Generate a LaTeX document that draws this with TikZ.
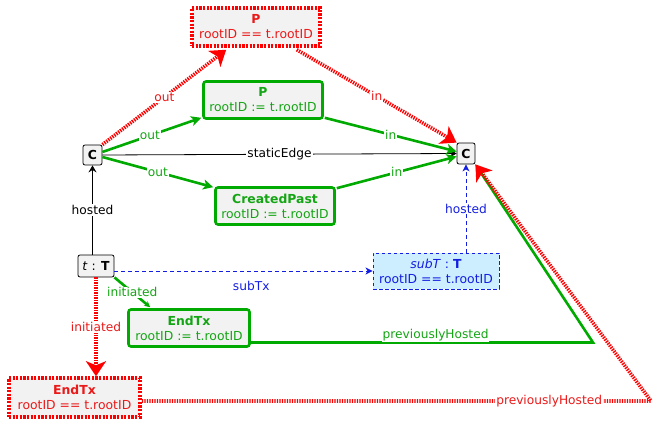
\documentclass[tikz,border=0pt]{standalone}
\usepackage{fontspec}
\setmainfont{DejaVu Sans}
\usetikzlibrary{arrows.meta,calc}
\definecolor{cred}{RGB}{255,0,0}
\definecolor{tred}{RGB}{235,25,25}
\definecolor{cgreen}{RGB}{0,170,0}
\definecolor{tgreen}{RGB}{20,165,20}
\definecolor{cblue}{RGB}{20,30,225}
\definecolor{boxgray}{RGB}{242,242,242}
\definecolor{lightblue}{RGB}{204,238,255}
\tikzset{
  base/.style={font=\fontsize{12.4}{15}\selectfont, inner sep=0pt, align=center},
  redbox/.style={base, draw=cred, line width=3.5pt, dash pattern=on 2.2pt off 1.4pt, fill=boxgray, text=tred},
  greenbox/.style={base, draw=cgreen, line width=2.6pt, rounded corners=2.5pt, fill=boxgray, text=tgreen},
  bluebox/.style={base, draw=cblue, line width=0.9pt, dash pattern=on 3.5pt off 2.5pt, fill=lightblue, text=cblue},
  smallbox/.style={base, draw=black, line width=0.8pt, rounded corners=2pt, fill=boxgray},
  redline/.style={draw=cred, line width=3.6pt, dash pattern=on 1.4pt off 1.1pt, -{Stealth[length=15pt,width=20pt,inset=4pt]}},
  greenline/.style={draw=cgreen, line width=2.6pt, -{Stealth[length=10pt,width=10pt,inset=2.5pt]}},
  blackline/.style={draw=black, line width=0.8pt, -{Stealth[length=7pt,width=8pt,inset=2.5pt]}},
  blueline/.style={draw=cblue, line width=0.9pt, dash pattern=on 4pt off 3pt, -{Stealth[length=7pt,width=7pt,inset=2pt]}},
  lab/.style={font=\fontsize{12.2}{14}\selectfont, fill=white, inner sep=1pt},
  rlab/.style={lab, text=tred},
  glab/.style={lab, text=tgreen},
  blab/.style={lab, text=cblue},
  klab/.style={lab, text=black},
}
\begin{document}
\begin{tikzpicture}[x=1pt,y=-1pt]
\useasboundingbox (0,0) rectangle (663,427);
% nodes
\node[redbox, minimum width=128pt, minimum height=38pt] (redP) at (256,27) {\textbf{P}\\rootID == t.rootID};
\node[greenbox, minimum width=119pt, minimum height=37pt] (greenP) at (263,100) {\textbf{P}\\rootID := t.rootID};
\node[greenbox, minimum width=119pt, minimum height=37pt] (CP) at (275,206) {\textbf{CreatedPast}\\rootID := t.rootID};
\node[smallbox, minimum width=19pt, minimum height=20pt] (C1) at (92.5,155) {\textbf{C}};
\node[smallbox, minimum width=18pt, minimum height=21pt] (C2) at (466,153.5) {\textbf{C}};
\node[smallbox, minimum width=36pt, minimum height=22pt] (tT) at (96,266) {\textit{t} : \textbf{T}};
\node[bluebox, minimum width=126pt, minimum height=36pt] (subT) at (436,271) {\textit{subT} : \textbf{T}\\rootID == t.rootID};
\node[greenbox, minimum width=121pt, minimum height=37pt] (gEnd) at (189,328) {\textbf{EndTx}\\rootID := t.rootID};
\node[redbox, minimum width=131pt, minimum height=39pt] (rEnd) at (74.5,397.5) {\textbf{EndTx}\\rootID == t.rootID};
\coordinate (g1) at (593,342.5);
\coordinate (r1) at (651,401);
% edges
\draw[blackline] (C1.east) -- node[klab, pos=0.5] {staticEdge} (C2.west);
\draw[redline] (C1.north east) -- node[rlab, pos=0.5] {out} ($(redP.south west)+(36,2)$);
\draw[redline] ($(redP.south east)+(-25,2)$) -- node[rlab, pos=0.5] {in} (C2.north west);
\draw[greenline] ($(C1.east)+(0,-3)$) -- node[glab, pos=0.48] {out} ($(greenP.south west)+(-1,-2)$);
\draw[greenline] ($(greenP.south east)+(1,-2)$) -- node[glab, pos=0.5] {in} ($(C2.west)+(0,-2)$);
\draw[greenline] ($(C1.east)+(0,2)$) -- node[glab, pos=0.5] {out} ($(CP.north west)+(-1,1)$);
\draw[greenline] ($(CP.north east)+(1,2)$) -- node[glab, pos=0.5] {in} ($(C2.west)+(0,3)$);
\draw[blackline] (tT.north -| C1) -- node[klab, pos=0.5] {hosted} (C1.south);
\draw[blueline] (tT.east |- subT.west) -- node[blab, below=9pt, pos=0.53, fill=none] {subTx} (subT.west);
\draw[blueline] (subT.north -| C2) -- node[blab, pos=0.5] {hosted} (C2.south);
\draw[greenline, -{Stealth[length=6pt,width=6pt,inset=2pt]}] (tT.south east) -- node[glab, pos=0.5] {initiated} ($(gEnd.north west)+(23,-1)$);
\draw[redline] (tT.south) -- node[rlab, pos=0.5] {initiated} (tT.south |- rEnd.north);
\draw[greenline] (gEnd.south east |- g1) -- node[glab, pos=0.54, anchor=south, yshift=-1pt] {previouslyHosted} (g1) -- (C2.south east);
\draw[redline] (rEnd.east |- r1) -- node[rlab, pos=0.8] {previouslyHosted} (r1) -- (C2.south east);
\end{tikzpicture}
\end{document}
